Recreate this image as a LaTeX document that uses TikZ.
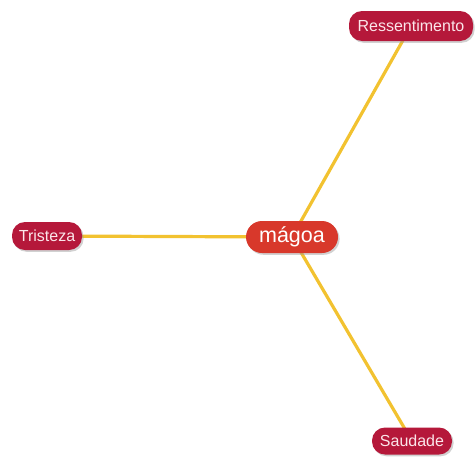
\documentclass[tikz,border=0pt]{standalone}
\usepackage{fontspec}
\setmainfont{Liberation Sans}
\usetikzlibrary{shadows,backgrounds}
\definecolor{leafred}{HTML}{B5183A}
\definecolor{rootred}{HTML}{D8382B}
\definecolor{linkgold}{HTML}{F2C230}
\definecolor{labelpink}{HTML}{FBE6EA}
\tikzset{
  pill/.style={rounded corners=#1, inner sep=0pt, align=center,
    text=labelpink,
    drop shadow={shadow xshift=1.6pt, shadow yshift=-1.8pt, fill=black!40, opacity=0.45}},
  leaf/.style={pill=13pt, fill=leafred, minimum height=28pt, font=\fontsize{16}{18}\selectfont},
  root/.style={pill=16pt, fill=rootred, minimum height=32pt, minimum width=92pt, text=white,
    font=\fontsize{21.5}{24}\selectfont},
  link/.style={draw=linkgold, line width=3.2pt},
}
\begin{document}
\begin{tikzpicture}[x=1pt, y=-1pt]
  \useasboundingbox (0,0) rectangle (476,461);
  \node[root] (magoa) at (292,237) {mágoa};
  \node[leaf, minimum width=124pt, minimum height=30pt] (ress) at (411,26) {Ressentimento};
  \node[leaf, minimum width=70pt] (trist) at (47,236) {Tristeza};
  \node[leaf, minimum width=80pt, minimum height=27pt] (saud) at (412,441) {Saudade};
  \begin{pgfonlayer}{background}
    \draw[link] (magoa.center) -- (ress.center);
    \draw[link] (magoa.center) -- (trist.center);
    \draw[link] (magoa.center) -- (saud.center);
  \end{pgfonlayer}
\end{tikzpicture}
\end{document}
